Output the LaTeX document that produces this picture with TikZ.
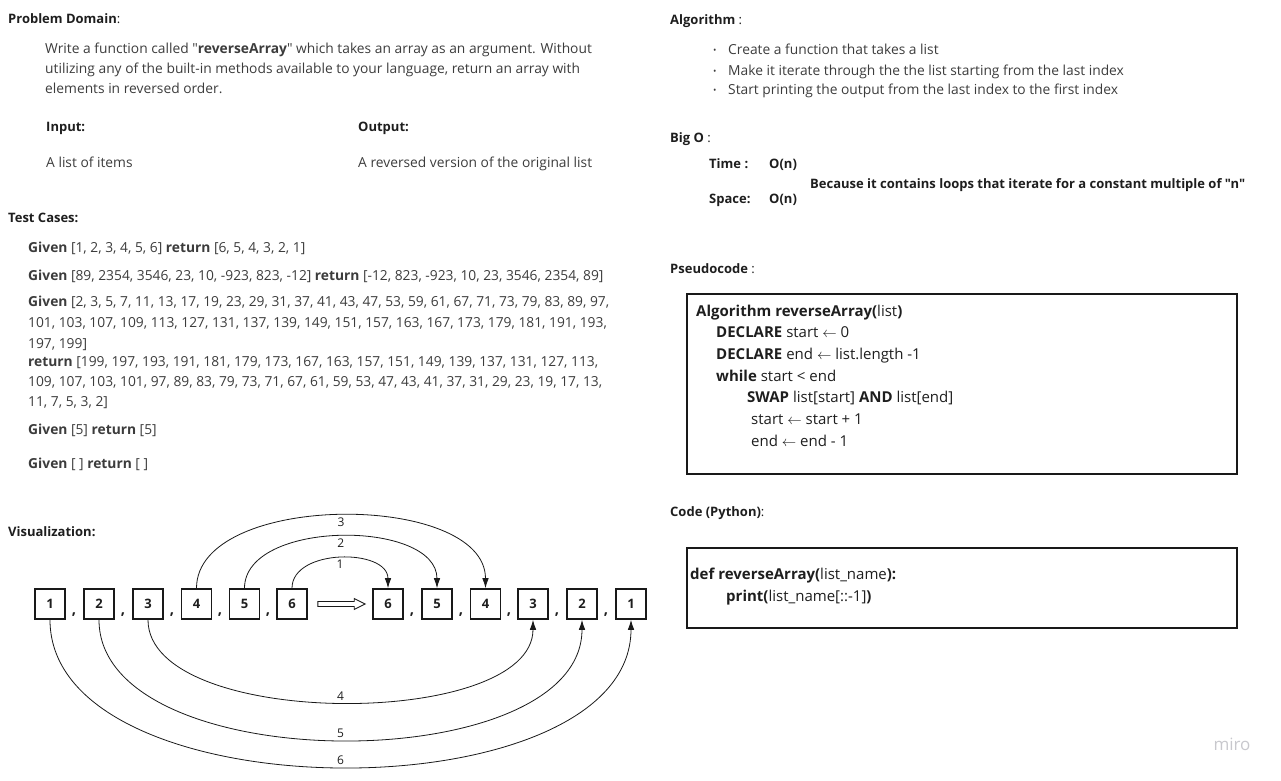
\documentclass[tikz,border=0pt]{standalone}
\usepackage{fontspec}
\setmainfont{Open Sans}[Ligatures=TeXOff]
\usetikzlibrary{arrows.meta,calc}
\definecolor{txtc}{RGB}{60,60,60}
\definecolor{hdc}{RGB}{30,30,30}
\definecolor{linec}{RGB}{25,25,25}
\definecolor{miroc}{RGB}{200,200,205}
\begin{document}
\begin{tikzpicture}[x=1pt,y=-1pt,
  txt/.style={anchor=base west, inner sep=0pt, font=\fontsize{13.8}{20}\selectfont, text=txtc},
  hd/.style={anchor=base west, inner sep=0pt, font=\fontsize{13}{18}\selectfont, text=hdc},
  pc/.style={anchor=base west, inner sep=0pt, font=\fontsize{15}{21}\selectfont, text=hdc},
  bul/.style={anchor=base west, inner sep=0pt, font=\fontsize{9}{10}\selectfont, text=txtc},
  cell/.style={draw=linec, line width=1.6pt, minimum width=30pt, minimum height=30pt, inner sep=0pt, font=\fontsize{13}{15}\selectfont\bfseries, text=hdc},
  comma/.style={anchor=base, inner sep=0pt, font=\fontsize{15}{16}\selectfont\bfseries, text=hdc},
  frame/.style={draw=linec, line width=1.6pt, anchor=north west, inner sep=0pt},
  arc/.style={draw=linec, line width=0.8pt, -{Latex[length=10pt,width=6.5pt]}},
  alab/.style={inner sep=1.5pt, font=\fontsize{12}{13}\selectfont, text=hdc},
  ]
\useasboundingbox (0,0) rectangle (1281,780);

% ---------- Left column ----------
\node[hd] (pd) at (8,23) {\textbf{Problem Domain}:};
\node[txt] (p1) at (45,53) {Write a function called "\textbf{reverseArray}" which takes an array as an argument. Without};
\node[txt] (p2) at (45,73) {utilizing any of the built-in methods available to your language, return an array with};
\node[txt] (p3) at (45,93) {elements in reversed order.};
\node[hd] (inl) at (46,131) {\textbf{Input:}};
\node[hd] (outl) at (358,131) {\textbf{Output:}};
\node[txt] (inv) at (46,167) {A list of items};
\node[txt] (outv) at (358,167) {A reversed version of the original list};

\node[hd] (tc) at (8,222) {\textbf{Test Cases:}};
\node[txt] (t1) at (28,252) {\textbf{Given} [1, 2, 3, 4, 5, 6] \textbf{return} [6, 5, 4, 3, 2, 1]};
\node[txt] (t2) at (28,280) {\textbf{Given} [89, 2354, 3546, 23, 10, -923, 823, -12] \textbf{return} [-12, 823, -923, 10, 23, 3546, 2354, 89]};
\node[txt] (t3a) at (28,306) {\textbf{Given} [2, 3, 5, 7, 11, 13, 17, 19, 23, 29, 31, 37, 41, 43, 47, 53, 59, 61, 67, 71, 73, 79, 83, 89, 97,};
\node[txt] (t3b) at (28,327) {101, 103, 107, 109, 113, 127, 131, 137, 139, 149, 151, 157, 163, 167, 173, 179, 181, 191, 193,};
\node[txt] (t3c) at (28,348) {197, 199]};
\node[txt] (t3d) at (28,366) {\textbf{return} [199, 197, 193, 191, 181, 179, 173, 167, 163, 157, 151, 149, 139, 137, 131, 127, 113,};
\node[txt] (t3e) at (28,386) {109, 107, 103, 101, 97, 89, 83, 79, 73, 71, 67, 61, 59, 53, 47, 43, 41, 37, 31, 29, 23, 19, 17, 13,};
\node[txt] (t3f) at (28,406) {11, 7, 5, 3, 2]};
\node[txt] (t4) at (28,434) {\textbf{Given} [5] \textbf{return} [5]};
\node[txt] (t5) at (28,468) {\textbf{Given} [ ] \textbf{return} [ ]};

\node[hd] (viz) at (8,536) {\textbf{Visualization:}};

% ---------- Visualization ----------
\node[cell] (a1) at (50,604) {1};
\node[cell] (a2) at (99,604) {2};
\node[cell] (a3) at (148,604) {3};
\node[cell] (a4) at (196.5,604) {4};
\node[cell] (a5) at (244.5,604) {5};
\node[cell] (a6) at (292,604) {6};
\node[cell] (b6) at (388,604) {6};
\node[cell] (b5) at (437,604) {5};
\node[cell] (b4) at (485.5,604) {4};
\node[cell] (b3) at (533,604) {3};
\node[cell] (b2) at (582,604) {2};
\node[cell] (b1) at (631,604) {1};

\foreach \x in {74,123,172,220,268,412,461,509,557,606}
  \node[comma] at (\x,614) {,};

% hollow arrow from the input list to the reversed list
\draw[linec, line width=0.9pt, fill=white, line join=miter]
  ($(a6.east)+(10,-2.5)$) -- ($(b6.west)+(-18,-2.5)$) -- ($(b6.west)+(-18,-5.5)$)
  -- ($(b6.west)+(-7,0)$) -- ($(b6.west)+(-18,5.5)$) -- ($(b6.west)+(-18,2.5)$)
  -- ($(a6.east)+(10,2.5)$) -- cycle;

\draw[arc] (a6.north) .. controls +(0,-40) and +(0,-40) .. (b6.north) node[alab, pos=0.5, below] {1};
\draw[arc] (a5.north) .. controls +(0,-69) and +(0,-69) .. (b5.north) node[alab, pos=0.5, below] {2};
\draw[arc] (a4.north) .. controls +(0,-97) and +(0,-97) .. (b4.north) node[alab, pos=0.5, below] {3};
\draw[arc] (a3.south) .. controls +(0,110) and +(0,110) .. (b3.south) node[alab, pos=0.5, above] {4};
\draw[arc] (a2.south) .. controls +(0,160) and +(0,160) .. (b2.south) node[alab, pos=0.5, above] {5};
\draw[arc] (a1.south) .. controls +(0,196) and +(0,196) .. (b1.south) node[alab, pos=0.5, above] {6};

% ---------- Right column ----------
\node[hd] (alg) at (670,24) {\textbf{Algorithm} :};
\node[bul] (bu1) at (713,53) {•};
\node[bul] (bu2) at (713,74) {•};
\node[bul] (bu3) at (713,93) {•};
\node[txt] (al1) at (728,54) {Create a function that takes a list};
\node[txt] (al2) at (728,75) {Make it iterate through the the list starting from the last index};
\node[txt] (al3) at (728,94) {Start printing the output from the last index to the first index};

\node[hd] (bigo) at (670,142) {\textbf{Big O} :};
\node[hd] (tm) at (709,168) {\textbf{Time :}};
\node[hd] (tmv) at (769,168) {\textbf{O(n)}};
\node[hd] (bc) at (810,188) {\textbf{Because it contains loops that iterate for a constant multiple of "n"}};
\node[hd] (sp) at (709,203) {\textbf{Space:}};
\node[hd] (spv) at (769,203) {\textbf{O(n)}};

\node[hd] (pse) at (670,273) {\textbf{Pseudocode} :};
\node[frame, minimum width=550pt, minimum height=180pt] (pbox) at (686,293) {};
\node[pc] (ps1) at (696,316) {\textbf{Algorithm reverseArray(}list\textbf{)}};
\node[pc] (ps2) at (716,337.5) {\textbf{DECLARE} start $\leftarrow$ 0};
\node[pc] (ps3) at (716,359.5) {\textbf{DECLARE} end $\leftarrow$ list.length -1};
\node[pc] (ps4) at (716,381.5) {\textbf{while} start < end};
\node[pc] (ps5) at (747,402.5) {\textbf{SWAP} list[start] \textbf{AND} list[end]};
\node[pc] (ps6) at (751,424.5) {start $\leftarrow$ start + 1};
\node[pc] (ps7) at (751,446.5) {end $\leftarrow$ end - 1};

\node[hd] (code) at (670,516) {\textbf{Code (Python)}:};
\node[frame, minimum width=550pt, minimum height=80pt] (cbox) at (686,547) {};
\node[pc] (c1) at (690,579) {\textbf{def reverseArray(}list\_name\textbf{):}};
\node[pc] (c2) at (726,601) {\textbf{print(}list\_name[::-1]\textbf{)}};

\node[inner sep=0pt, font=\fontsize{17}{18}\selectfont, text=miroc] (miro) at (1232,744) {miro};
\end{tikzpicture}
\end{document}
